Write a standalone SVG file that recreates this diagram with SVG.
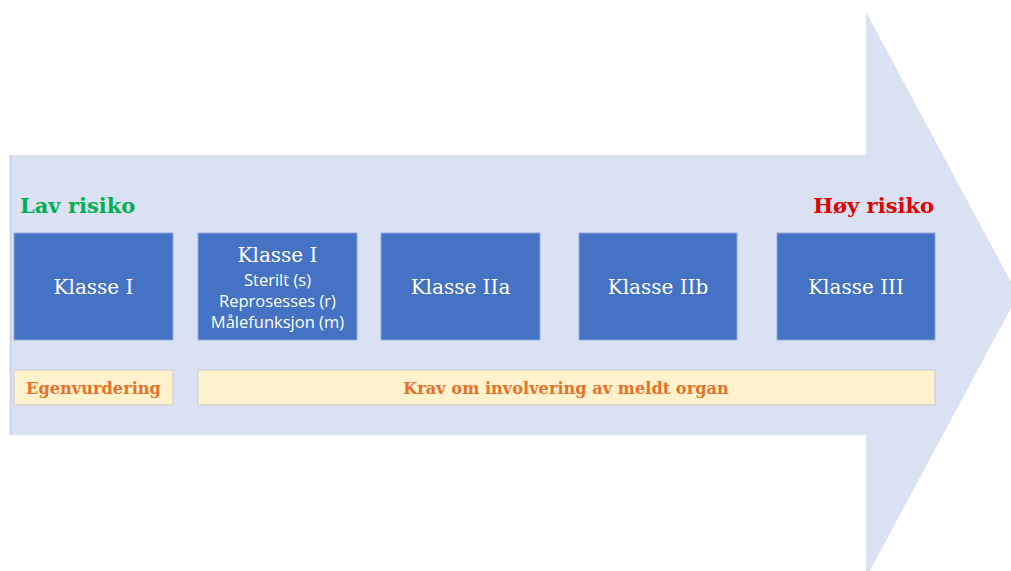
<svg xmlns="http://www.w3.org/2000/svg" width="1011" height="571" viewBox="0 0 1011 571">
<style>
.box{fill:#4472C4;stroke:#8FAADC;stroke-width:1}
.bar{fill:#FFF2CC;stroke:#CFCFCF;stroke-width:1.2}
.t{font-family:"DejaVu Serif","Liberation Serif",serif;font-size:20px;fill:#FFFFFF;text-anchor:middle}
.s{font-family:"Open Sans","Noto Sans",sans-serif;font-size:16.5px;fill:#FFFFFF;text-anchor:middle}
.o{font-family:"DejaVu Serif","Liberation Serif",serif;font-weight:bold;font-size:16.2px;fill:#E8712A;text-anchor:middle}
.r{font-family:"DejaVu Serif","Liberation Serif",serif;font-weight:bold;font-size:21px}
</style>
<rect width="1011" height="571" fill="#FFFFFF"/>
<g id="arrow">
<polygon points="10,155 866,155 866,12 1018,295 866,578 866,435 10,435" fill="#DAE1F2"/>
<line x1="10.5" y1="155" x2="10.5" y2="435" stroke="#C5CEE3" stroke-width="1.5"/>
</g>
<g id="lav"><text class="r" x="20" y="213" fill="#00B050">Lav risiko</text></g>
<g id="hoy"><text class="r" x="934" y="213" fill="#E00000" text-anchor="end">Høy risiko</text></g>
<g id="n1"><rect class="box" x="14" y="233" width="159" height="107"/><text class="t" x="93.5" y="294">Klasse I</text></g>
<g id="n2"><rect class="box" x="198" y="233" width="159" height="107"/>
<text class="t" x="277.5" y="262">Klasse I</text>
<text class="s" x="277.5" y="285.5">Sterilt (s)</text>
<text class="s" x="277.5" y="306.5">Reprosesses (r)</text>
<text class="s" x="277.5" y="327.5">Målefunksjon (m)</text></g>
<g id="n3"><rect class="box" x="381" y="233" width="159" height="107"/><text class="t" x="460.5" y="294">Klasse IIa</text></g>
<g id="n4"><rect class="box" x="579" y="233" width="158" height="107"/><text class="t" x="658" y="294">Klasse IIb</text></g>
<g id="n5"><rect class="box" x="777" y="233" width="158" height="107"/><text class="t" x="856" y="294">Klasse III</text></g>
<g id="b1"><rect class="bar" x="14" y="370" width="159" height="35"/><text class="o" x="93.5" y="393.5">Egenvurdering</text></g>
<g id="b2"><rect class="bar" x="198" y="370" width="737" height="35"/><text class="o" x="566" y="393.5">Krav om involvering av meldt organ</text></g>
<g id="connectors"></g>
</svg>
